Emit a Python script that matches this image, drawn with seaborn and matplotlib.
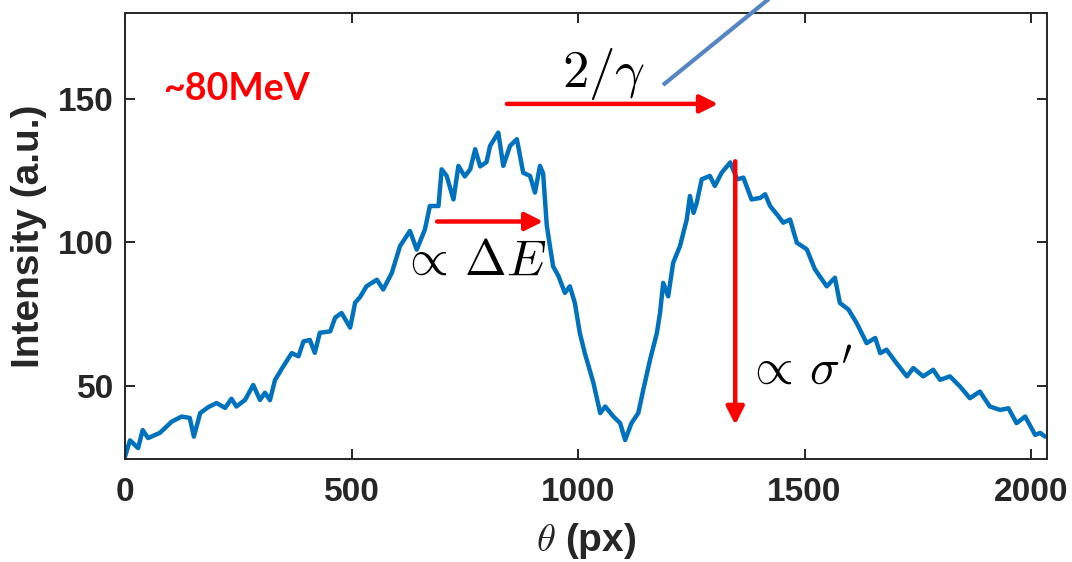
import matplotlib
matplotlib.use("Agg")
import matplotlib.pyplot as plt
from matplotlib.lines import Line2D
import pandas as pd
import seaborn as sns

# Angular intensity profile of the ~80 MeV beam
theta_px = [0, 11, 29, 39, 51, 77, 103, 125, 143, 152, 166, 184, 202, 221, 235, 246,
            265, 283, 298, 309, 320, 331, 349, 368, 383, 394, 408, 419, 430, 453, 464,
            478, 497, 508, 519, 533, 556, 570, 589, 607, 629, 644, 662, 673, 692, 699,
            710, 725, 736, 750, 762, 773, 784, 798, 806, 824, 835, 850, 865, 879, 894,
            905, 916, 923, 931, 938, 945, 957, 971, 982, 993, 1004, 1015, 1034, 1049,
            1060, 1078, 1093, 1104, 1118, 1133, 1144, 1159, 1174, 1181, 1188, 1199,
            1210, 1225, 1240, 1247, 1255, 1262, 1273, 1291, 1302, 1317, 1336, 1351,
            1365, 1383, 1402, 1413, 1424, 1442, 1453, 1468, 1483, 1505, 1523, 1549,
            1567, 1578, 1597, 1615, 1637, 1656, 1667, 1681, 1703, 1726, 1740, 1762,
            1784, 1799, 1821, 1843, 1865, 1887, 1909, 1932, 1950, 1968, 1987, 2009,
            2020, 2031]
intensity = [25.3, 31.0, 28.3, 34.6, 31.8, 33.6, 37.5, 39.3, 38.8, 32.3, 40.5, 42.6,
             44.0, 42.3, 45.5, 42.8, 45.1, 50.3, 45.1, 47.6, 45.0, 52.0, 56.7, 61.4,
             60.3, 65.5, 66.0, 61.5, 68.5, 69.0, 73.8, 75.4, 70.3, 79.0, 81.0, 84.7,
             87.0, 83.6, 89.4, 98.7, 104.0, 97.5, 104.5, 112.7, 112.7, 125.5, 123.2,
             115.0, 126.7, 123.0, 125.5, 132.5, 126.5, 128.0, 133.7, 138.3, 126.7,
             133.7, 136.0, 124.3, 123.2, 117.4, 126.7, 124.0, 106.0, 98.7, 91.7, 88.2,
             82.4, 84.7, 78.9, 68.4, 61.4, 51.0, 40.5, 42.8, 39.3, 37.0, 31.1, 37.0,
             40.5, 48.6, 59.1, 68.4, 75.4, 85.9, 81.2, 92.9, 98.7, 108.0, 116.2, 110.3,
             113.8, 122.0, 123.2, 119.7, 124.3, 127.9, 122.0, 122.6, 115.0, 115.5,
             116.8, 112.7, 109.2, 106.9, 108.0, 99.9, 97.6, 90.6, 84.7, 87.7, 78.9,
             76.6, 71.9, 64.9, 66.7, 61.4, 62.6, 57.9, 53.3, 56.2, 53.3, 55.6, 52.1,
             53.3, 49.8, 45.7, 48.0, 42.8, 41.6, 42.2, 37.0, 39.3, 32.9, 33.6, 32.3]

x_ticks = [0, 500, 1000, 1500, 2000]
y_ticks = [50, 100, 150]

# Annotation arrows: (start, end) in data units
arrow_width_span = ((843, 148.3), (1309, 148.3))
arrow_energy_span = ((689, 107.3), (923, 107.3))
arrow_divergence = ((1347, 128.3), (1347, 36.4))

sns.set_theme(style="ticks")
plt.rcParams["font.family"] = ["Liberation Sans", "DejaVu Sans"]
plt.rcParams["mathtext.fontset"] = "cm"

ink = "#262626"
fig = plt.figure(figsize=(10.72, 5.62), dpi=100)
ax = fig.add_axes([0.1166, 0.1833, 0.86, 0.7936])

df = pd.DataFrame({"theta": theta_px, "intensity": intensity})
sns.lineplot(data=df, x="theta", y="intensity", ax=ax, color="#0072BD",
             linewidth=3.2, sort=False, estimator=None)

ax.set_xlim(0, 2035)
ax.set_ylim(24.5, 180)
ax.set_xticks(x_ticks)
ax.set_yticks(y_ticks)

for side in ["left", "right", "top", "bottom"]:
    ax.spines[side].set_visible(True)
    ax.spines[side].set_color(ink)
    ax.spines[side].set_linewidth(1.4)
ax.tick_params(axis="both", which="both", direction="in", length=7, width=1.4,
               color=ink, top=True, right=True, labelsize=24, labelcolor=ink)
ax.tick_params(axis="x", pad=13)
ax.tick_params(axis="y", pad=8)
for lab in ax.get_xticklabels() + ax.get_yticklabels():
    lab.set_fontweight("bold")

ax.set_xlabel(r"$\theta$ (px)", fontsize=28, fontweight="bold", color=ink, labelpad=9)
ax.set_ylabel("Intensity (a.u.)", fontsize=28, fontweight="bold", color=ink, labelpad=8)

# Beam energy tag
ax.text(84, 153.5, "~80MeV", color="#ff0000", fontsize=27, fontweight="bold",
        family=["Lato", "DejaVu Sans"], va="center", ha="left")

arrow_kw = dict(arrowstyle="-|>", color="#ff0000", lw=3.2, mutation_scale=27,
                shrinkA=0, shrinkB=0)
for (start, end) in (arrow_width_span, arrow_energy_span, arrow_divergence):
    ax.annotate("", xy=end, xytext=start, arrowprops=arrow_kw, annotation_clip=False)

ax.text(1057, 158.7, r"$2/\gamma$", fontsize=38, ha="center", va="center", color="black")
ax.text(610, 93.4, r"$\propto\,\Delta E$", fontsize=36, ha="left", va="center", color="black")
ax.text(1371, 54.9, r"$\propto\,\sigma'$", fontsize=36, ha="left", va="center", color="black")

# Pointer line leading off the top of the panel
fig.add_artist(Line2D([663 / 1072, 770 / 1072], [1 - 85 / 562, 1 + 2 / 562],
                      transform=fig.transFigure, color="#5585c5", lw=3.0,
                      solid_capstyle="butt"))

fig.savefig("out.png", dpi=100)
